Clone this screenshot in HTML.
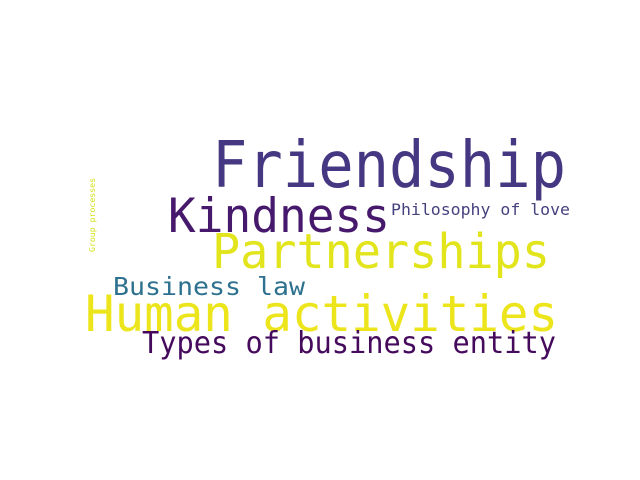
<!DOCTYPE html>
<html><head><meta charset="utf-8"><style>
html,body{margin:0;padding:0;background:#fff;}
svg{display:block;font-family:"DejaVu Sans Mono","Liberation Mono",monospace;}
</style></head><body>
<svg id="cloud" width="640" height="480" viewBox="0 0 640 480">
<rect width="640" height="480" fill="#ffffff"/>
</svg>
<script>
const words = ["Friendship","Kindness","Philosophy of love","Partnerships","Business law","Human activities","Types of business entity","Group processes"];
const fontSizes = [64,47,16,48,25,50,30,8];
const colors = ["#453781","#47196c","#45417f","#e2e41c","#2d718e","#ece51b","#460a5d","#d2e21b"];
const xs = [212,168,391,212,113,85,142,95];
const ys = [187,232,215,268,295,331,353,252];
const widths = [354,222,179,338,192,473,414,74];
const vertical = [false,false,false,false,false,false,false,true];
const svg = document.getElementById('cloud');
const NS = "http://www.w3.org/2000/svg";
words.forEach((w,i)=>{
  const t = document.createElementNS(NS,'text');
  
  
  t.setAttribute('x', xs[i]);
  t.setAttribute('y', ys[i]);
  t.setAttribute('font-size', fontSizes[i]);
  t.setAttribute('fill', colors[i]);
  t.setAttribute('textLength', widths[i]);
  t.setAttribute('lengthAdjust', 'spacingAndGlyphs');
  if (vertical[i]) t.setAttribute('transform', `rotate(-90 ${xs[i]} ${ys[i]})`);
  t.textContent = w;
  svg.appendChild(t);
});
</script>
</body></html>
